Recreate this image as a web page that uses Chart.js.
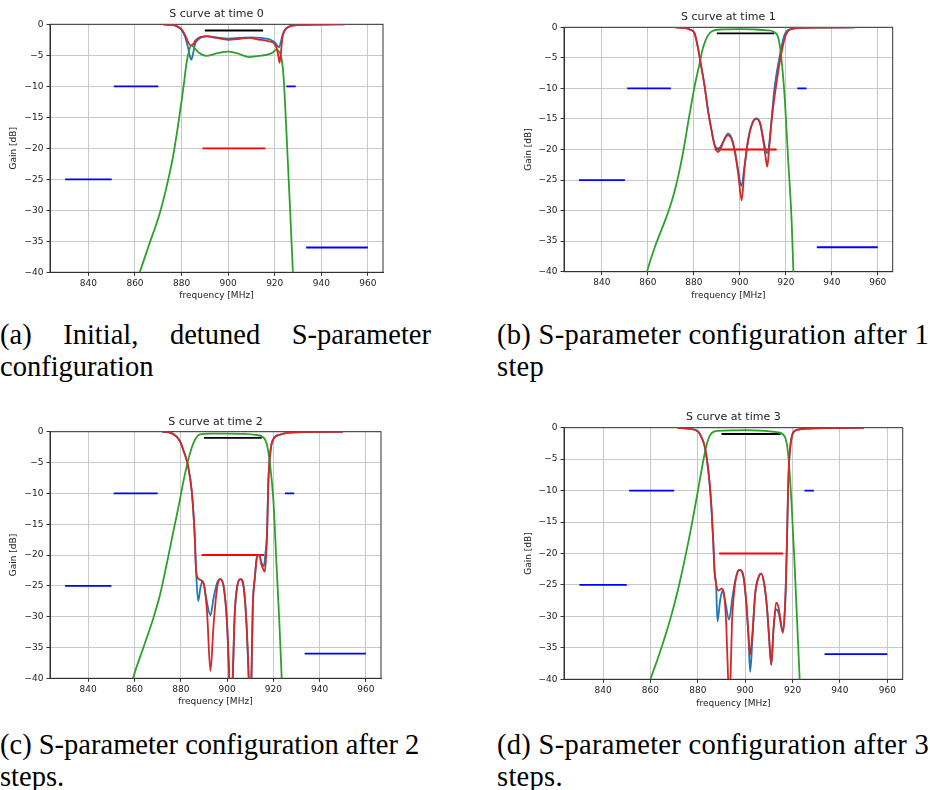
<!DOCTYPE html>
<html>
<head>
<meta charset="utf-8">
<script src="https://cdn.jsdelivr.net/npm/chart.js@4.4.1/dist/chart.umd.min.js"></script>
<style>
body { margin:0; width:930px; height:790px; overflow:hidden; background:#fff; position:relative; }
canvas { position:absolute; }
.cap { position:absolute; font-family:'Liberation Serif','Times New Roman',serif; font-size:28.5px; line-height:32px; color:#000; white-space:nowrap; }
.just { display:flex; justify-content:space-between; }
.wide { letter-spacing:0.3px; }
</style>
</head>
<body>
<canvas id="c0" width="465" height="301" style="left:0;top:0"></canvas>
<canvas id="c1" width="416" height="301" style="left:514px;top:0"></canvas>
<canvas id="c2" width="465" height="310" style="left:0;top:400px"></canvas>
<canvas id="c3" width="416" height="310" style="left:514px;top:400px"></canvas>

<div class="cap" style="left:0;top:319px;width:431px">
  <div class="just"><span>(a)</span><span>Initial,</span><span>detuned</span><span>S-parameter</span></div>
  <div>configuration</div>
</div>
<div class="cap wide" style="left:497px;top:319px">
  <div>(b) S-parameter configuration after 1</div>
  <div>step</div>
</div>
<div class="cap" style="left:0;top:729px">
  <div>(c) S-parameter configuration after 2</div>
  <div>steps.</div>
</div>
<div class="cap wide" style="left:497px;top:729px">
  <div>(d) S-parameter configuration after 3</div>
  <div>steps.</div>
</div>

<script>
// 軸の目盛り
const xTicks = [840, 860, 880, 900, 920, 940, 960];
const yTicks = [0, -5, -10, -15, -20, -25, -30, -35, -40];
const titles = ['S curve at time 0', 'S curve at time 1', 'S curve at time 2', 'S curve at time 3'];

// 仕様ライン (全グラフ共通)
const specBlueF = [[830, 850], [851, 870], [925, 929], [933.5, 960]];
const specBlueG = [-25, -10, -10, -36];
const specRedF = [[889, 916]];
const specRedG = [-20];
const specBlackF = [[890, 915]];
const specBlackG = [-1];

// time 0
const blue0F = [872, 876, 878, 880, 881.5, 882.8, 883.6, 884.2, 884.9, 885.7, 887, 888.5, 891, 895, 900, 905, 910, 914, 917.5, 920, 921.2, 921.9, 922.6, 923.4, 924.5, 926.5, 930, 940, 950];
const blue0G = [-0.02, -0.1, -0.35, -0.9, -2.0, -3.8, -5.2, -5.7, -4.8, -3.3, -2.5, -2.1, -1.9, -2.1, -2.3, -2.2, -2.1, -2.2, -2.4, -2.9, -3.5, -3.7, -2.9, -1.6, -0.8, -0.3, -0.12, -0.04, -0.02];
const red0F = [872, 876, 878, 880, 881.5, 882.8, 883.8, 884.8, 886, 888, 891, 895, 900, 905, 909, 913, 917, 919.5, 920.8, 921.6, 922.1, 922.6, 923.3, 924.5, 926.5, 930, 940, 950];
const red0G = [-0.02, -0.1, -0.3, -0.8, -1.7, -2.9, -3.4, -3.3, -2.6, -2.05, -1.95, -2.2, -2.5, -2.35, -2.2, -2.45, -2.7, -3.0, -3.8, -5.2, -6.2, -4.8, -2.2, -0.9, -0.35, -0.12, -0.04, -0.02];
const green0F = [858, 862, 866, 870.6, 873.5, 876.3, 878.3, 880, 881.2, 882.1, 883.2, 884.2, 885.5, 887.5, 890.6, 895, 900, 904, 909.2, 913, 916.4, 919, 920.7, 921.8, 922.8, 923.8, 925.2, 926.5, 927.8, 928.5];
const green0G = [-44, -40, -35.6, -30.5, -26.3, -21.4, -16.8, -12.4, -9, -6.3, -4.3, -3.4, -3.8, -4.6, -5.1, -4.7, -4.4, -4.7, -5.3, -5.1, -4.95, -4.6, -4.1, -4.4, -5.2, -8.5, -18.7, -29, -40, -46];

// time 1
const blue1F = [872, 876, 878.5, 880.3, 881.7, 883.2, 884.7, 886.1, 887.6, 889, 890.3, 891.5, 893, 894.8, 896.5, 898, 899.3, 900.7, 902, 903.6, 905.5, 907.2, 908.8, 910.2, 911.2, 911.9, 912.8, 914, 915, 917.2, 919.3, 920.5, 922.5, 926, 935, 950];
const blue1G = [-0.02, -0.1, -0.4, -1.0, -3.2, -6.4, -9.7, -13.5, -16.7, -19.2, -19.8, -19.6, -18.5, -17.4, -18.2, -20.5, -23.5, -26, -22.8, -18.4, -15.6, -14.9, -15.6, -18.2, -20, -20.6, -19, -14.2, -10.2, -5, -1.4, -0.6, -0.25, -0.1, -0.05, -0.02];
const red1F = [872, 876, 878.5, 880.3, 881.7, 883.2, 884.7, 886.1, 887.6, 889, 890.5, 891.7, 893, 894.8, 896.5, 898, 899.3, 900.8, 902, 903.6, 905.5, 907.2, 908.8, 910.2, 911.2, 911.9, 912.6, 913.4, 914.2, 915.3, 917.5, 919.7, 921, 922.5, 926, 935, 950];
const red1G = [-0.02, -0.1, -0.4, -1.0, -3.2, -6.4, -9.7, -13.5, -16.7, -19.3, -20.4, -19.8, -18.6, -17.7, -18.4, -20.8, -24, -28.3, -23.2, -18.5, -15.7, -15, -15.8, -18.6, -21.2, -22.8, -20.5, -17, -14, -10.8, -5.4, -1.6, -0.6, -0.3, -0.1, -0.05, -0.02];
const green1F = [857, 859.6, 863, 867.3, 869.5, 871.5, 873.3, 875.2, 878, 880.3, 882.5, 884, 886, 888, 892, 900, 906, 912, 914.5, 916.7, 918, 919.6, 921, 922.5, 923.3, 924];
const green1G = [-44, -40, -36, -31.8, -29.5, -27, -24.2, -20.7, -14.5, -9.7, -5.9, -3.3, -1.4, -0.6, -0.35, -0.3, -0.35, -0.5, -0.7, -1.7, -4.8, -12, -21.6, -31.4, -40, -46];

// time 2
const blue2F = [872, 875, 878.2, 880, 881.1, 882.2, 883.2, 884.7, 885.6, 886.1, 886.6, 887.5, 888.5, 889.5, 890.9, 892.8, 894.2, 895.7, 897.1, 898.6, 900, 901, 901.7, 902.4, 903.3, 904.3, 905.8, 907.2, 908.4, 909.4, 909.9, 910.5, 911.1, 912, 913, 914, 914.8, 915.9, 916.5, 917.3, 917.8, 918.8, 920, 922.8, 926, 935, 950];
const blue2G = [-0.02, -0.1, -0.8, -1.8, -3, -4.2, -5.7, -9.5, -14, -17.5, -22.5, -27.5, -25.3, -24.2, -26.9, -29.8, -26.9, -24.5, -23.9, -25.3, -31.2, -40.4, -46, -40.4, -29.6, -25.3, -23.9, -25.3, -31.2, -40.4, -46, -40.4, -28.5, -23.7, -20.2, -20, -21.2, -21.8, -20, -16, -8.4, -3, -1.2, -0.5, -0.2, -0.05, -0.02];
const red2F = [872, 875, 878.2, 880, 881.1, 882.2, 883.2, 884.7, 885.6, 886.1, 886.6, 887.8, 889.2, 890.3, 891.4, 892.8, 894.2, 895.7, 897.1, 898.6, 900, 901, 901.7, 902.4, 903.3, 904.3, 905.8, 907.2, 908.4, 909.4, 909.9, 910.5, 911.1, 912, 913, 914, 914.8, 915.6, 916.3, 916.9, 917.3, 917.8, 918.8, 920, 922.8, 926, 935, 950];
const red2G = [-0.02, -0.1, -0.8, -1.8, -3, -4.2, -5.7, -9.5, -14, -17.5, -22.5, -23.9, -24.2, -25.3, -29.6, -38.8, -31.2, -25.3, -23.9, -25.3, -31.2, -40.4, -46, -40.4, -29.6, -25.3, -23.9, -25.3, -31.2, -40.4, -46, -40.4, -28.5, -23.7, -20.2, -20, -21.5, -22.3, -22.7, -19.9, -16.5, -8.4, -3, -1.2, -0.5, -0.2, -0.05, -0.02];
const green2F = [857, 859.4, 863.5, 868.1, 871, 873.9, 877, 879.6, 881, 882.5, 884, 885.4, 886.8, 888.3, 893, 900, 907, 912, 915.6, 917.1, 918.5, 920, 921.4, 922.6, 923.6, 924.3];
const green2G = [-44, -40, -35.4, -30.3, -26.5, -21.5, -15.8, -11.1, -8.3, -5.7, -3.5, -1.9, -0.9, -0.45, -0.3, -0.3, -0.35, -0.5, -0.9, -1.9, -5.1, -11.1, -21.9, -31, -40, -46];

// time 3
const blue3F = [871.5, 876, 880.1, 881.5, 882.9, 884, 885, 885.8, 886.5, 887.1, 887.7, 888.3, 889.4, 890.4, 891.5, 893.2, 894.6, 895.8, 897.6, 899, 900.4, 901.4, 902.1, 903, 904.2, 905.6, 906.8, 908, 909.2, 910.1, 911, 912, 913.1, 914.1, 915.5, 916, 916.8, 917.3, 917.7, 918.1, 918.6, 919.2, 920.2, 922.3, 926, 935, 950];
const blue3G = [-0.02, -0.15, -0.6, -1.5, -3, -5.5, -8.9, -13, -18, -23, -24.8, -30.8, -27.5, -25.9, -27.5, -30.5, -27, -24.3, -22.6, -23.2, -27.5, -33.5, -38.8, -34, -26.5, -23.8, -23.2, -24.8, -28.6, -33.4, -37.7, -31.8, -28.9, -29.4, -32.1, -32.4, -28.6, -23.2, -17, -10, -5, -2.5, -0.8, -0.3, -0.15, -0.05, -0.02];
const red3F = [871.5, 876, 880.1, 881.5, 882.9, 884, 885, 885.8, 886.5, 887.1, 887.7, 888.7, 890.1, 891.1, 892, 892.8, 893.3, 893.8, 894.4, 895.4, 896.5, 897.6, 899, 900.4, 901.4, 902.1, 903, 904.2, 905.6, 906.8, 908, 909.2, 910.1, 911, 912, 913.1, 914.1, 915.2, 915.9, 916.8, 917.3, 917.7, 918.1, 918.6, 919.2, 920.2, 922.3, 926, 935, 950];
const red3G = [-0.02, -0.15, -0.6, -1.5, -3, -5.5, -8.9, -13, -18, -23, -24.8, -25.9, -25.6, -26.5, -31.3, -40, -44, -40, -31.3, -25.9, -23.2, -22.6, -23.2, -27.5, -32.9, -36.1, -32.9, -26.5, -23.8, -23.2, -24.8, -28.6, -33.4, -37.7, -31.8, -27.8, -28.6, -31.3, -32.6, -28.6, -23.2, -17, -10, -5, -2.5, -0.8, -0.3, -0.15, -0.05, -0.02];
const green3F = [857, 860, 863, 866, 869, 871.6, 874.5, 877.3, 880.1, 882.9, 884.3, 885.7, 888.5, 895, 900, 906, 913.8, 916.7, 918.1, 919.5, 920.9, 923, 923.6];
const green3G = [-44, -40, -36.8, -33.4, -29.6, -25.8, -20.9, -15.7, -9.9, -4.1, -2.0, -0.9, -0.5, -0.42, -0.4, -0.45, -0.74, -1.4, -4.1, -11.5, -22.1, -40, -45];

const curves = [
	[blue0F, blue0G, red0F, red0G, green0F, green0G],
	[blue1F, blue1G, red1F, red1G, green1F, green1G],
	[blue2F, blue2G, red2F, red2G, green2F, green2G],
	[blue3F, blue3G, red3F, red3G, green3F, green3G],
];

// 各グラフの配置 (キャンバス内の座標)
const layouts = [
	{ w: 465, h: 301, plotL: 50, plotR: 383, plotT: 24.3, plotB: 272.3, titleY: 14, xlabY: 295.5, ylabX: 14 },
	{ w: 416, h: 301, plotL: 50, plotR: 378.7, plotT: 27.3, plotB: 271.7, titleY: 16.7, xlabY: 295.5, ylabX: 15 },
	{ w: 465, h: 310, plotL: 50, plotR: 381, plotT: 31.7, plotB: 278.3, titleY: 21.7, xlabY: 301.7, ylabX: 14 },
	{ w: 416, h: 310, plotL: 50, plotR: 388.7, plotT: 27.7, plotB: 279.3, titleY: 16.7, xlabY: 303.3, ylabX: 14.3 },
];

Chart.defaults.font.family = "'DejaVu Sans', sans-serif";

function toPoints(fs, gs) {
	return fs.map((f, i) => ({ x: f, y: gs[i] }));
}
function toSegments(pairs, gs) {
	const pts = [];
	pairs.forEach((p, i) => {
		if (i > 0) pts.push({ x: p[0], y: null });
		pts.push({ x: p[0], y: gs[i] }, { x: p[1], y: gs[i] });
	});
	return pts;
}

// 枠線
const frame = {
	id: 'frame',
	beforeDatasetsDraw(chart) {
		const { ctx, chartArea: a } = chart;
		ctx.save();
		ctx.strokeStyle = '#333';
		ctx.lineWidth = 1;
		ctx.strokeRect(a.left, a.top, a.right - a.left, a.bottom - a.top);
		ctx.restore();
	}
};

for (let i = 0; i < 4; i++) {
	const g = layouts[i];
	const [bF, bG, rF, rG, gF, gG] = curves[i];
	const textColor = '#222';
	new Chart(document.getElementById('c' + i), {
		type: 'line',
		data: {
			datasets: [
				{ data: toPoints(rF, rG), borderColor: '#d62728' },
				{ data: toPoints(gF, gG), borderColor: '#2ca02c' },
				{ data: toPoints(bF, bG), borderColor: '#1f77b4' },
				{ data: toSegments(specBlackF, specBlackG), borderColor: '#000000' },
				{ data: toSegments(specRedF, specRedG), borderColor: '#ff0000' },
				{ data: toSegments(specBlueF, specBlueG), borderColor: '#0000ff' },
			]
		},
		options: {
			responsive: false,
			animation: false,
			layout: { padding: { left: 0, right: g.w - g.plotR, top: 0, bottom: 0 } },
			elements: {
				point: { radius: 0 },
				line: { borderWidth: 1.8, cubicInterpolationMode: 'monotone', fill: false }
			},
			plugins: {
				legend: { display: false },
				tooltip: { enabled: false },
				title: {
					display: true,
					text: titles[i],
					fullSize: false,
					color: textColor,
					font: { size: 11, weight: 'normal', lineHeight: 1.2 },
					padding: { top: g.titleY - 6.6, bottom: g.plotT - g.titleY - 6.6 }
				}
			},
			scales: {
				x: {
					type: 'linear',
					min: 823.5,
					max: 966.5,
					afterBuildTicks: s => { s.ticks = xTicks.map(v => ({ value: v })); },
					afterFit: s => { s.height = g.h - g.plotB; },
					grid: { color: '#c8c8c8', tickColor: '#333', tickLength: 3.5 },
					border: { color: '#333' },
					ticks: { color: textColor, font: { size: 9 }, padding: 2, maxRotation: 0, autoSkip: false },
					title: {
						display: true, text: 'frequency [MHz]', color: textColor,
						font: { size: 9, lineHeight: 1.2 },
						padding: { top: 0, bottom: Math.max(0, g.h - g.xlabY - 5.4) }
					}
				},
				y: {
					type: 'linear',
					min: -40,
					max: 0,
					afterBuildTicks: s => { s.ticks = yTicks.map(v => ({ value: v })); },
					afterFit: s => { s.width = g.plotL; },
					grid: { color: '#c8c8c8', tickColor: '#333', tickLength: 3.5 },
					border: { color: '#333' },
					ticks: {
						color: textColor, font: { size: 9 }, padding: 3,
						callback: v => String(v).replace('-', '\u2212')
					},
					title: {
						display: true, text: 'Gain [dB]', color: textColor,
						font: { size: 9, lineHeight: 1.2 },
						padding: { top: g.ylabX - 5.4, bottom: 0 }
					}
				}
			}
		},
		plugins: [frame]
	});
}
</script>
</body>
</html>
